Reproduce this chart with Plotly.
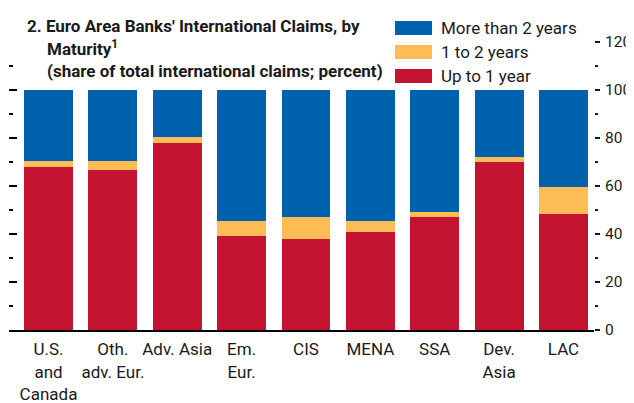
import plotly.graph_objects as go

# ---- data ----
categories = ["U.S.<br>and<br>Canada", "Oth.<br>adv. Eur.", "Adv. Asia", "Em.<br>Eur.",
              "CIS", "MENA", "SSA", "Dev.<br>Asia", "LAC"]
up_to_1_year = [68, 66.5, 78, 39, 38, 41, 47, 70, 48.5]
one_to_2_years = [2.5, 4, 2.5, 6.5, 9, 4.5, 2, 2, 11]
more_than_2_years = [29.5, 29.5, 19.5, 54.5, 53, 54.5, 51, 28, 40.5]
series_names = ["More than 2 years", "1 to 2 years", "Up to 1 year"]
major_ticks = [0, 20, 40, 60, 80, 100, 120]
minor_ticks = [10, 30, 50, 70, 90, 110]

title_line1 = "2. Euro Area Banks' International Claims, by"
title_line2 = "Maturity<sup>1</sup>"
title_line3 = "(share of total international claims; percent)"

# ---- style ----
BLUE = "#0061AD"
YELLOW = "#FEBC56"
RED = "#C41331"
FONT = "Roboto, sans-serif"
TXT = "#1a1a1a"

OFF = 8  # page body margin
W, H = 634 - OFF, 403 - OFF
# plot area in screen pixels: left 9, right 594, top 42, bottom 330
SL, SR, ST, SB = 9, 594, 42, 330
ML, MR, MT, MB = SL - OFF, W - (SR - OFF), ST - OFF, H - (SB - OFF)
PW, PH = W - ML - MR, H - MT - MB


def px_x(px):
    return (px - SL) / PW


def px_y(py):
    return (SB - py) / PH


fig = go.Figure()
fig.add_trace(go.Bar(x=categories, y=up_to_1_year, name=series_names[2],
                     marker=dict(color=RED, line=dict(width=0)), width=0.76, yaxis="y"))
fig.add_trace(go.Bar(x=categories, y=one_to_2_years, name=series_names[1],
                     marker=dict(color=YELLOW, line=dict(width=0)), width=0.76, yaxis="y"))
fig.add_trace(go.Bar(x=categories, y=more_than_2_years, name=series_names[0],
                     marker=dict(color=BLUE, line=dict(width=0)), width=0.76, yaxis="y"))
# invisible trace to activate right axis
fig.add_trace(go.Scatter(x=[categories[0]], y=[0], yaxis="y2", mode="markers",
                         marker=dict(opacity=0), showlegend=False, hoverinfo="skip"))

# first bar centre at screen x 48.5, last at 563.5
x0 = -(48.5 - SL) / 515.0 * 8
x1 = x0 + PW / 515.0 * 8

fig.update_layout(
    width=W, height=H, barmode="stack", bargap=0,
    margin=dict(l=ML, r=MR, t=MT, b=MB, pad=0),
    plot_bgcolor="white", paper_bgcolor="white",
    showlegend=False,
    font=dict(family=FONT, size=17, color=TXT),
    xaxis=dict(range=[x0, x1], showgrid=False, zeroline=False, automargin=False,
               showline=True, linecolor="black", linewidth=2, tickangle=0,
               ticks="", ticklabelstandoff=3,
               tickfont=dict(size=17, color=TXT, family=FONT)),
    yaxis=dict(range=[0, 120], tickvals=major_ticks, automargin=False,
               showticklabels=False, ticks="inside", ticklen=8, tickwidth=2,
               tickcolor="black", showgrid=False, zeroline=False, showline=False,
               minor=dict(tickvals=minor_ticks, ticks="inside",
                          ticklen=4, tickwidth=2, tickcolor="black")),
    yaxis2=dict(range=[0, 120], overlaying="y", side="right", automargin=False,
                tickvals=major_ticks, ticks="outside", ticklen=5, tickwidth=1.6,
                tickcolor="#1a1a1a", ticklabelstandoff=2,
                showgrid=False, zeroline=False, showline=False,
                minor=dict(tickvals=minor_ticks, ticks="outside", ticklen=3,
                           tickwidth=1.6, tickcolor="#1a1a1a"),
                tickfont=dict(size=15.5, color=TXT, family=FONT)),
)

# title
for txt, xp, yc in [(title_line1, 25, 26), (title_line2, 45, 48), (title_line3, 45, 71)]:
    fig.add_annotation(text="<b>" + txt + "</b>", xref="paper", yref="paper",
                       x=px_x(xp), y=px_y(yc), xanchor="left", yanchor="middle",
                       showarrow=False, font=dict(size=17, color=TXT, family=FONT))

# legend (drawn)
for name, color, cy in [(series_names[0], BLUE, 28), (series_names[1], YELLOW, 52),
                        (series_names[2], RED, 76)]:
    fig.add_shape(type="rect", xref="paper", yref="paper",
                  x0=px_x(395), x1=px_x(432), y0=px_y(cy + 7), y1=px_y(cy - 7),
                  fillcolor=color, line=dict(width=0))
    fig.add_annotation(text=name, xref="paper", yref="paper",
                       x=px_x(439), y=px_y(cy), xanchor="left", yanchor="middle",
                       showarrow=False, font=dict(size=17, color=TXT, family=FONT))

fig.write_html("out.html")
